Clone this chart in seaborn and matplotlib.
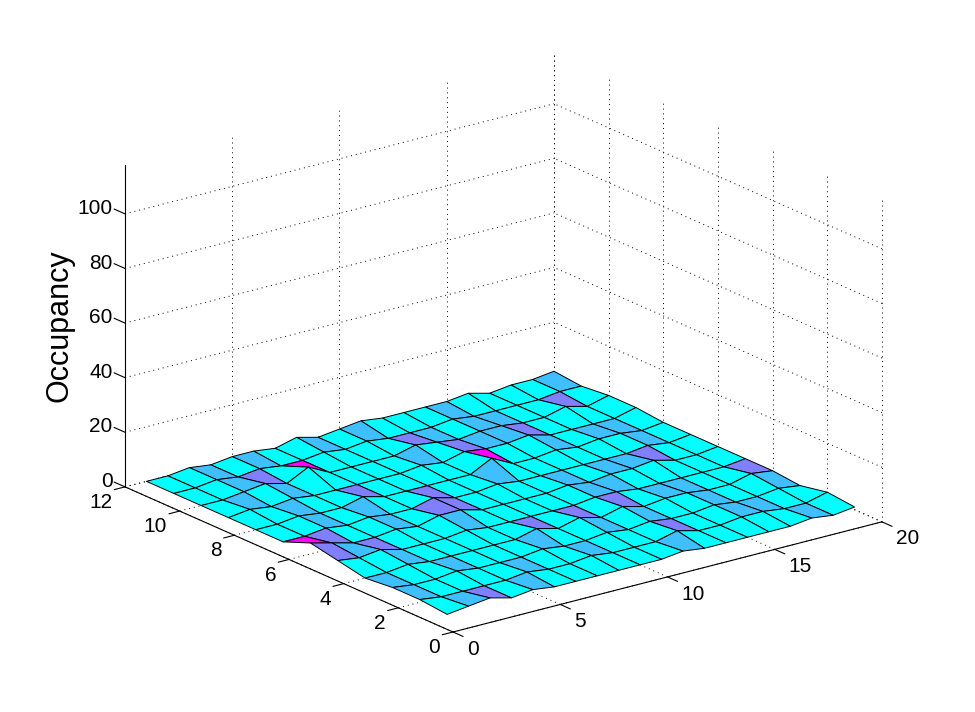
import matplotlib
matplotlib.use('Agg')
import matplotlib.pyplot as plt
import numpy as np
import seaborn as sns
from mpl_toolkits.mplot3d import proj3d

sns.set_style('white')
plt.rcParams['font.family'] = ['Liberation Sans', 'DejaVu Sans']
plt.rcParams['text.color'] = 'black'

# occupancy, one list per y value, x = 1..20
row_1 = [0, 1, 2, 0, 1, 0, 0, 0, 0, 0, 0, 1, 0, 0, 0, 0, 0, 1, 0, 1]
row_2 = [1, 0, 0, 0, 0, 1, 0, 0, 1, 0, 0, 0, 2, 0, 0, 1, 1, 0, 0, 2]
row_3 = [1, 0, 0, 1, 0, 0, 0, 1, 0, 0, 1, 0, 1, 0, 0, 1, 0, 0, 1, 0]
row_4 = [0, 0, 1, 0, 0, 0, 0, 0, 2, 0, 2, 0, 2, 0, 1, 1, 0, 0, 2, 1]
row_5 = [2, 1, 2, 0, 0, 0, 1, 0, 0, 0, 0, 0, 1, 1, 0, 0, 0, 0, 0, 1]
row_6 = [4, 2, 0, 0, 1, 0, 2, 2, 0, 0, 0, 0, 1, 0, 1, 1, 2, 0, 0, 1]
row_7 = [0, 0, 1, 0, 1, 0, 0, 2, 0, 0, 1, 0, 0, 0, 0, 0, 0, 1, 0, 1]
row_8 = [0, 0, 1, 0, 0, 2, 0, 0, 0, 0, 0, 4, 0, 0, 1, 0, 1, 1, 0, 1]
row_9 = [0, 1, 0, 1, 0, 0, 0, 0, 0, 1, 0, 2, 1, 1, 2, 0, 0, 0, 0, 2]
row_10 = [0, 0, 1, 2, 0, 4, 0, 0, 0, 0, 2, 1, 0, 1, 1, 0, 0, 2, 0, 2]
row_11 = [0, 0, 1, 0, 1, 0, 0, 1, 0, 1, 0, 0, 0, 1, 0, 0, 0, 0, 1, 1]
row_12 = [0, 0, 1, 0, 1, 1, 0, 2, 0, 1, 2, 1, 1, 1, 1, 2, 0, 1, 1, 2]

x_values = list(range(1, 21))
y_values = list(range(1, 13))
x_ticks = [0, 5, 10, 15, 20]
y_ticks = [0, 2, 4, 6, 8, 10, 12]
z_ticks = [0, 20, 40, 60, 80, 100]
x_max, y_max, z_max = 20, 12, 118

occupancy = np.array([row_1, row_2, row_3, row_4, row_5, row_6, row_7, row_8,
                      row_9, row_10, row_11, row_12], dtype=float)
X, Y = np.meshgrid(x_values, y_values)

cmap = sns.color_palette('cool', as_cmap=True)
colors = cmap(occupancy / occupancy.max())

fig = plt.figure(figsize=(9.75, 7.12), dpi=100)
ax = fig.add_axes([0.1, 0.1, 0.8, 0.8 * 9.75 / 7.12], projection='3d', computed_zorder=False)
ax.set_proj_type('ortho')
ax.view_init(elev=19.7, azim=-127.3)
ax.set_box_aspect((539, 541, 342))
ax.set_xlim(0, x_max)
ax.set_ylim(0, y_max)
ax.set_zlim(0, z_max)
ax.set_axis_off()

ax.plot_surface(X, Y, occupancy, facecolors=colors, shade=False, rstride=1, cstride=1,
                edgecolor='black', linewidth=0.7, zorder=2)

# dotted grid on the floor and the two back walls
grid = dict(color='black', lw=0.7, linestyle=(0, (1, 4)), zorder=1)
for t in x_ticks:
    ax.plot([t, t], [0, y_max], [0, 0], **grid)
    ax.plot([t, t], [y_max, y_max], [0, z_max], **grid)
for t in y_ticks:
    ax.plot([0, x_max], [t, t], [0, 0], **grid)
    ax.plot([x_max, x_max], [t, t], [0, z_max], **grid)
for t in z_ticks:
    ax.plot([0, x_max], [y_max, y_max], [t, t], **grid)
    ax.plot([x_max, x_max], [0, y_max], [t, t], **grid)

# axis lines and ticks
axis = dict(color='black', lw=0.8, zorder=3)
ax.plot([0, x_max], [0, 0], [0, 0], **axis)
ax.plot([0, 0], [0, y_max], [0, 0], **axis)
ax.plot([0, 0], [y_max, y_max], [0, z_max], **axis)
for t in x_ticks:
    ax.plot([t, t], [0, -0.37], [0, 0], **axis)
for t in y_ticks:
    ax.plot([0, -0.5], [t, t], [0, 0], **axis)
for t in z_ticks:
    ax.plot([0, 0], [y_max, y_max + 0.4], [t, t], **axis)

fig.text(60 / 975, 1 - 326 / 712, 'Occupancy', fontsize=22, rotation=90, ha='center', va='center')


def corner_px(x, y, z):
    ax.apply_aspect()
    xs, ys, _ = proj3d.proj_transform(x, y, z, ax.get_proj())
    return ax.transData.transform((xs, ys))


def tick_label(x, y, z, label, ha):
    px = corner_px(x, y, z)
    fig.text(px[0] / 975, px[1] / 712, label, fontsize=15, ha=ha, va='center')


# fit the box onto the corners of the reference: front (453, 632), right (882, 522)
front = np.array([453, 712 - 632])
right = np.array([882, 712 - 522])
pos = ax.get_position(original=True)
scale = np.linalg.norm(right - front) / np.linalg.norm(corner_px(x_max, 0, 0) - corner_px(0, 0, 0))
ax.set_position([pos.x0, pos.y0, pos.width * scale, pos.height * scale])
pos = ax.get_position(original=True)
shift = front - corner_px(0, 0, 0)
ax.set_position([pos.x0 + shift[0] / 975, pos.y0 + shift[1] / 712, pos.width, pos.height])

for t in x_ticks:
    tick_label(t, -0.51, -4, str(t), 'left')
for t in y_ticks:
    tick_label(-0.6, t, -4.5, str(t), 'right')
for t in z_ticks:
    tick_label(0, y_max + 0.45, t, str(t), 'right')

fig.savefig('out.png', dpi=100)
